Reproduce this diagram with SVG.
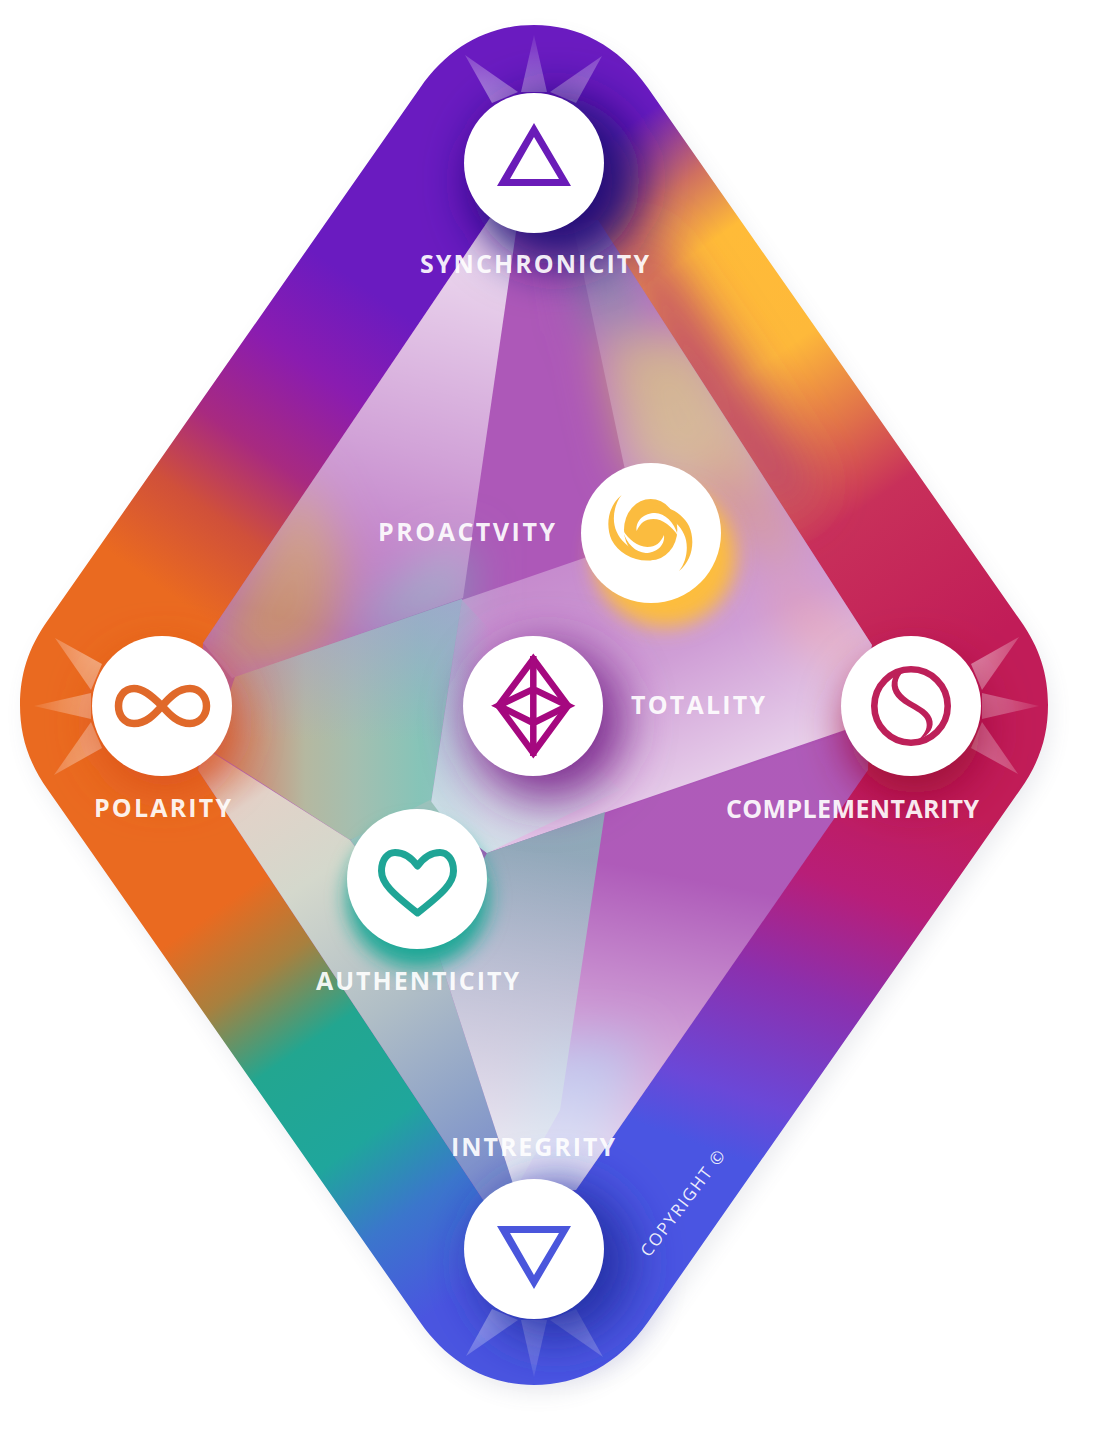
<svg xmlns="http://www.w3.org/2000/svg" width="1103" height="1440" viewBox="0 0 1103 1440">
<style>
.disc{fill:#fff}
.lbl{font-family:"Open Sans","Liberation Sans",sans-serif;font-weight:700;font-size:25px;fill:#fff;fill-opacity:.92}
.copy{font-family:"Open Sans","Liberation Sans",sans-serif;font-weight:500;font-size:17px;fill:#fff;fill-opacity:.9}
.b25{filter:url(#b25)}
.b12{filter:url(#b12)}
.y{fill:#fbbc3f}
</style>
<defs>
<path id="shape" d="M420,88 C450,45 490,25 534,25 C578,25 618,45 648,88 L1020,620 C1040,648 1048,675 1048,705 C1048,735 1040,762 1020,790 L648,1322 C618,1365 578,1385 534,1385 C490,1385 450,1365 420,1322 L48,790 C28,762 20,735 20,705 C20,675 28,648 48,620 Z"/>
<clipPath id="clip"><use href="#shape"/></clipPath>
<clipPath id="inner"><polygon points="490,218 598,220 872,645 868,770 576,1190 490,1210 198,770 203,643"/></clipPath>
<filter id="b25" filterUnits="userSpaceOnUse" x="-200" y="-200" width="1500" height="1840"><feGaussianBlur stdDeviation="24"/></filter>
<filter id="b12" filterUnits="userSpaceOnUse" x="-200" y="-200" width="1500" height="1840"><feGaussianBlur stdDeviation="10"/></filter>
<linearGradient id="tl" gradientUnits="userSpaceOnUse" x1="420" y1="88" x2="48" y2="620"><stop offset=".3" stop-color="#6a1bc0"/><stop offset=".45" stop-color="#8a1cb0"/><stop offset=".6" stop-color="#a82a80"/><stop offset=".72" stop-color="#d0503a"/><stop offset=".86" stop-color="#ea6a20"/></linearGradient>
<linearGradient id="ll" gradientUnits="userSpaceOnUse" x1="48" y1="790" x2="420" y2="1322"><stop offset=".3" stop-color="#ea6a20"/><stop offset=".42" stop-color="#a8803e"/><stop offset=".55" stop-color="#22a690"/><stop offset=".72" stop-color="#1fa69c"/><stop offset=".85" stop-color="#3b76cc"/><stop offset="1" stop-color="#4a55e0"/></linearGradient>
<linearGradient id="lr" gradientUnits="userSpaceOnUse" x1="740" y1="1160" x2="880" y2="780"><stop offset="0" stop-color="#4a55e2"/><stop offset=".15" stop-color="#6a48d8"/><stop offset=".45" stop-color="#8b30ae"/><stop offset=".72" stop-color="#b81e78"/><stop offset="1" stop-color="#c11c58"/></linearGradient>
<linearGradient id="tr" gradientUnits="userSpaceOnUse" x1="648" y1="88" x2="1020" y2="620"><stop offset=".03" stop-color="#6a1bc0"/><stop offset=".15" stop-color="#d07060"/><stop offset=".25" stop-color="#ffbb38"/><stop offset=".45" stop-color="#feb93a"/><stop offset=".6" stop-color="#e0704a"/><stop offset=".72" stop-color="#c8305a"/><stop offset="1" stop-color="#c11c58"/></linearGradient>
<linearGradient id="ray" gradientUnits="userSpaceOnUse" x1="0" y1="-60" x2="0" y2="-128"><stop offset="0" stop-color="#fff" stop-opacity=".48"/><stop offset="1" stop-color="#fff" stop-opacity=".08"/></linearGradient>
<g id="rays" fill="url(#ray)"><polygon points="-42,-60 -16,-71 -69,-108"/><polygon points="-13,-71 13,-71 0,-128"/><polygon points="16,-71 42,-60 68,-107"/></g>
<linearGradient id="p1" gradientUnits="userSpaceOnUse" x1="470" y1="260" x2="370" y2="640"><stop offset="0" stop-color="#fff" stop-opacity=".75"/><stop offset=".5" stop-color="#fff" stop-opacity=".45"/><stop offset="1" stop-color="#fff" stop-opacity=".12"/></linearGradient>
<linearGradient id="p2" gradientUnits="userSpaceOnUse" x1="590" y1="240" x2="820" y2="740"><stop offset="0" stop-color="#fff" stop-opacity=".08"/><stop offset=".5" stop-color="#fff" stop-opacity=".3"/><stop offset=".75" stop-color="#fff" stop-opacity=".42"/><stop offset="1" stop-color="#fff" stop-opacity=".72"/></linearGradient>
<linearGradient id="p3" gradientUnits="userSpaceOnUse" x1="210" y1="770" x2="480" y2="1180"><stop offset="0" stop-color="#dc9c8c"/><stop offset=".1" stop-color="#e2d2c8"/><stop offset=".3" stop-color="#d4d8cc"/><stop offset=".6" stop-color="#b0bec6"/><stop offset=".85" stop-color="#8ea2c8"/><stop offset="1" stop-color="#7c8ecc"/></linearGradient>
<linearGradient id="p4" gradientUnits="userSpaceOnUse" x1="530" y1="1170" x2="590" y2="860"><stop offset="0" stop-color="#fff" stop-opacity=".8"/><stop offset=".5" stop-color="#fff" stop-opacity=".42"/><stop offset="1" stop-color="#fff" stop-opacity=".02"/></linearGradient>
<linearGradient id="p5" gradientUnits="userSpaceOnUse" x1="430" y1="835" x2="520" y2="700"><stop offset="0" stop-color="#d4e6ea" stop-opacity=".98"/><stop offset=".55" stop-color="#c8dce4" stop-opacity=".55"/><stop offset="1" stop-color="#c8dce4" stop-opacity="0"/></linearGradient>
<linearGradient id="p5b" gradientUnits="userSpaceOnUse" x1="435" y1="0" x2="490" y2="0"><stop offset="0" stop-color="#8fb8c8" stop-opacity=".75"/><stop offset="1" stop-color="#8fb8c8" stop-opacity="0"/></linearGradient>
<linearGradient id="p6" gradientUnits="userSpaceOnUse" x1="215" y1="0" x2="465" y2="0"><stop offset="0" stop-color="#d07a60"/><stop offset=".18" stop-color="#c8957e"/><stop offset=".36" stop-color="#b5b8a0"/><stop offset=".56" stop-color="#a4bfb0"/><stop offset=".82" stop-color="#86c4b8"/><stop offset="1" stop-color="#8fc0c0"/></linearGradient>
<linearGradient id="p6b" gradientUnits="userSpaceOnUse" x1="0" y1="590" x2="0" y2="740"><stop offset="0" stop-color="#a4a0d0" stop-opacity=".75"/><stop offset="1" stop-color="#a4a0d0" stop-opacity="0"/></linearGradient>
<linearGradient id="p7" gradientUnits="userSpaceOnUse" x1="560" y1="840" x2="540" y2="1110"><stop offset="0" stop-color="#8bb0b8" stop-opacity=".9"/><stop offset="1" stop-color="#9cc4c8" stop-opacity=".55"/></linearGradient>
</defs>
<use href="#shape" transform="translate(5,10)" fill="#5a6080" opacity=".1" filter="url(#b12)"/>
<g id="band-colours" clip-path="url(#clip)">
  <polygon points="535,-10 535,705 -10,705 -10,-10" fill="url(#tl)"/>
  <polygon points="535,705 535,1450 -10,1450 -10,705" fill="url(#ll)"/>
  <polygon points="534,705 534,1450 1110,1450 1110,705" fill="url(#lr)"/>
  <polygon points="534,-10 534,705 1110,705 1110,-10" fill="url(#tr)"/>
  <g class="b25">
    <polygon points="610,230 655,240 750,380 820,490 780,520 670,400" fill="#b83f70" opacity=".85"/>
  </g>
</g>
<g id="inner-colours" clip-path="url(#inner)">
  <rect x="150" y="180" width="760" height="1050" fill="#ad58b8"/>
  <g class="b25">
    <polygon points="210,640 300,470 345,560 330,650 240,680" fill="#c08060"/>
    <polygon points="380,590 470,540 470,610 350,650" fill="#8890b8"/>
    <polygon points="600,340 700,330 780,470 720,510 630,470" fill="#c8a078"/>
    <polygon points="720,440 800,540 780,570 700,490" fill="#c46a60"/>
    <polygon points="575,230 625,240 640,330 590,330" fill="#7a7aa0"/>
    <polygon points="770,570 870,640 860,680 790,640" fill="#d05a80"/>
    <polygon points="540,1040 640,1040 600,1200 500,1200" fill="#7f86d8"/>
  </g>
</g>
<g id="planes" clip-path="url(#clip)">
  <polygon points="235,677 462,599 430,810 350,840 210,750" fill="url(#p6)"/>
  <polygon points="235,677 462,599 430,810 350,840 210,750" fill="url(#p6b)"/>
  <polygon points="490,218 517,225 463,598 232,678 203,643" fill="url(#p1)"/>
  <polygon points="573,225 598,220 872,645 845,730 487,853 430,810 462,600 590,556 625,470" fill="url(#p2)"/>
  <polygon points="462,600 430,810 487,853 520,800 500,640" fill="url(#p5b)"/>
  <polygon points="462,600 430,810 487,853 620,790 520,690" fill="url(#p5)"/>
  <polygon points="487,853 605,812 560,1110 515,1190 437,950" fill="url(#p7)"/>
  <polygon points="430,800 350,840 437,950 490,880" fill="#9cc2bc"/>
  <polygon points="205,748 350,840 437,950 515,1190 490,1210 198,770" fill="url(#p3)"/>
  <polygon points="487,853 845,733 868,770 576,1190 515,1190 437,950" fill="url(#p4)"/>
</g>
<g id="connectors"></g>
<g id="node-synchronicity">
  <use href="#rays" transform="translate(534,163)"/>
  <g clip-path="url(#clip)"><circle cx="556" cy="181" r="84" fill="#210e78" class="b25"/></g>
  <circle class="disc" cx="534" cy="163" r="70"/>
  <path fill="#6a1bb8" fill-rule="evenodd" d="M534,123 L571,186 H497Z M534,137 L510,179 H559Z"/>
  <text class="lbl" x="420" y="273" textLength="229">SYNCHRONICITY</text>
</g>
<g id="node-polarity">
  <use href="#rays" transform="translate(162,706) rotate(-90)"/>
  <circle cx="165" cy="722" r="66" fill="#d9501a" class="b25" clip-path="url(#clip)"/>
  <circle class="disc" cx="162" cy="706" r="70"/>
  <path fill="none" stroke="#e0692a" stroke-width="7.5" d="M162,706 C150,694 142,688.5 134,688.5 C124,688.5 118.5,697 118.5,706 C118.5,715 124,723.5 134,723.5 C146,723.5 154,715 162,706 C170,697 178,688.5 190,688.5 C200,688.5 206.5,697 206.5,706 C206.5,715 200,723.5 190,723.5 C178,723.5 170,715 162,706Z"/>
  <text class="lbl" x="94" y="817" textLength="137">POLARITY</text>
</g>
<g id="node-complementarity">
  <use href="#rays" transform="translate(911,706) rotate(90)"/>
  <circle cx="915" cy="728" r="66" fill="#9c0a38" class="b25"/>
  <circle class="disc" cx="911" cy="706" r="70"/>
  <circle cx="911" cy="706" r="36.7" fill="none" stroke="#bd2059" stroke-width="6.6"/>
  <path fill="#bd2059" d="M895,673.3 C888.3,685 891.7,695 903.3,703.3 C916.7,711.7 926.7,715 926.7,725 C926.7,731.7 921.7,736.7 918.3,740 C930,735 935,726.7 931.7,718.3 C928.3,708.3 915,705 905,696.7 C896.7,690 895,681.7 901.7,673.3Z"/>
  <text class="lbl" x="726" y="818" textLength="253">COMPLEMENTARITY</text>
</g>
<g id="node-integrity">
  <use href="#rays" transform="translate(534,1249) rotate(180)"/>
  <circle cx="555" cy="1262" r="78" fill="#2733a8" class="b25"/>
  <circle class="disc" cx="534" cy="1249" r="70"/>
  <path fill="#4a56dc" fill-rule="evenodd" d="M497,1226 H571 L534,1289Z M510,1233 L534,1275 L559,1233Z"/>
  <text class="lbl" x="451" y="1156" textLength="164">INTREGRITY</text>
</g>
<g id="node-proactivity">
  <circle cx="665" cy="556" r="71" fill="#fdbd3c" class="b12"/>
  <circle class="disc" cx="651" cy="533" r="70"/>
  <g transform="translate(600,485) scale(.3333)">
    <ellipse class="y" cx="152" cy="134" rx="80" ry="92"/>
    <path id="arm" class="y" d="M65,30 C25,62 15,120 35,165 C55,205 105,232 155,226 L110,200 C85,185 60,165 50,140 C35,110 40,60 65,30Z"/>
    <use href="#arm" transform="rotate(180 151 144)"/>
    <path id="cres" fill="#fff" d="M110,138 C106,105 135,84 165,84 C195,86 222,110 234,152 C215,125 190,102 160,102 C135,102 120,115 110,138Z"/>
    <use href="#cres" transform="rotate(180 151 144)"/>
  </g>
  <text class="lbl" x="378" y="541" textLength="177">PROACTVITY</text>
</g>
<g id="node-totality">
  <circle cx="548" cy="722" r="76" fill="#7c2b8e" class="b25"/>
  <circle class="disc" cx="533" cy="706" r="70"/>
  <g fill="none" stroke="#a5087f" stroke-width="6.5" stroke-linejoin="miter">
    <path d="M533.3,659 L568,705.7 L533.3,753 L498.5,705.7Z"/>
    <path d="M533.3,656 V756 M498.5,705.7 L533.3,689 L568,705.7 L533.3,723 Z"/>
  </g>
  <text class="lbl" x="631" y="714" textLength="134">TOTALITY</text>
</g>
<g id="node-authenticity">
  <circle cx="418" cy="897" r="71" fill="#1fa796" class="b12"/>
  <circle class="disc" cx="417" cy="879" r="70"/>
  <path fill="none" stroke="#1fa596" stroke-width="7" stroke-linejoin="round" d="M417.5,866 C411,857 403,852.5 395,852.5 C388,852.5 381.5,859 381.5,871 C381.5,883 392,893 417.5,913 C443,893 453.5,883 453.5,871 C453.5,859 447,852.5 440,852.5 C432,852.5 424,857 417.5,866 Z"/>
  <text class="lbl" x="316" y="990" textLength="203">AUTHENTICITY</text>
</g>
<text class="copy" transform="translate(649,1258) rotate(-53)" textLength="128">COPYRIGHT ©</text>
</svg>
